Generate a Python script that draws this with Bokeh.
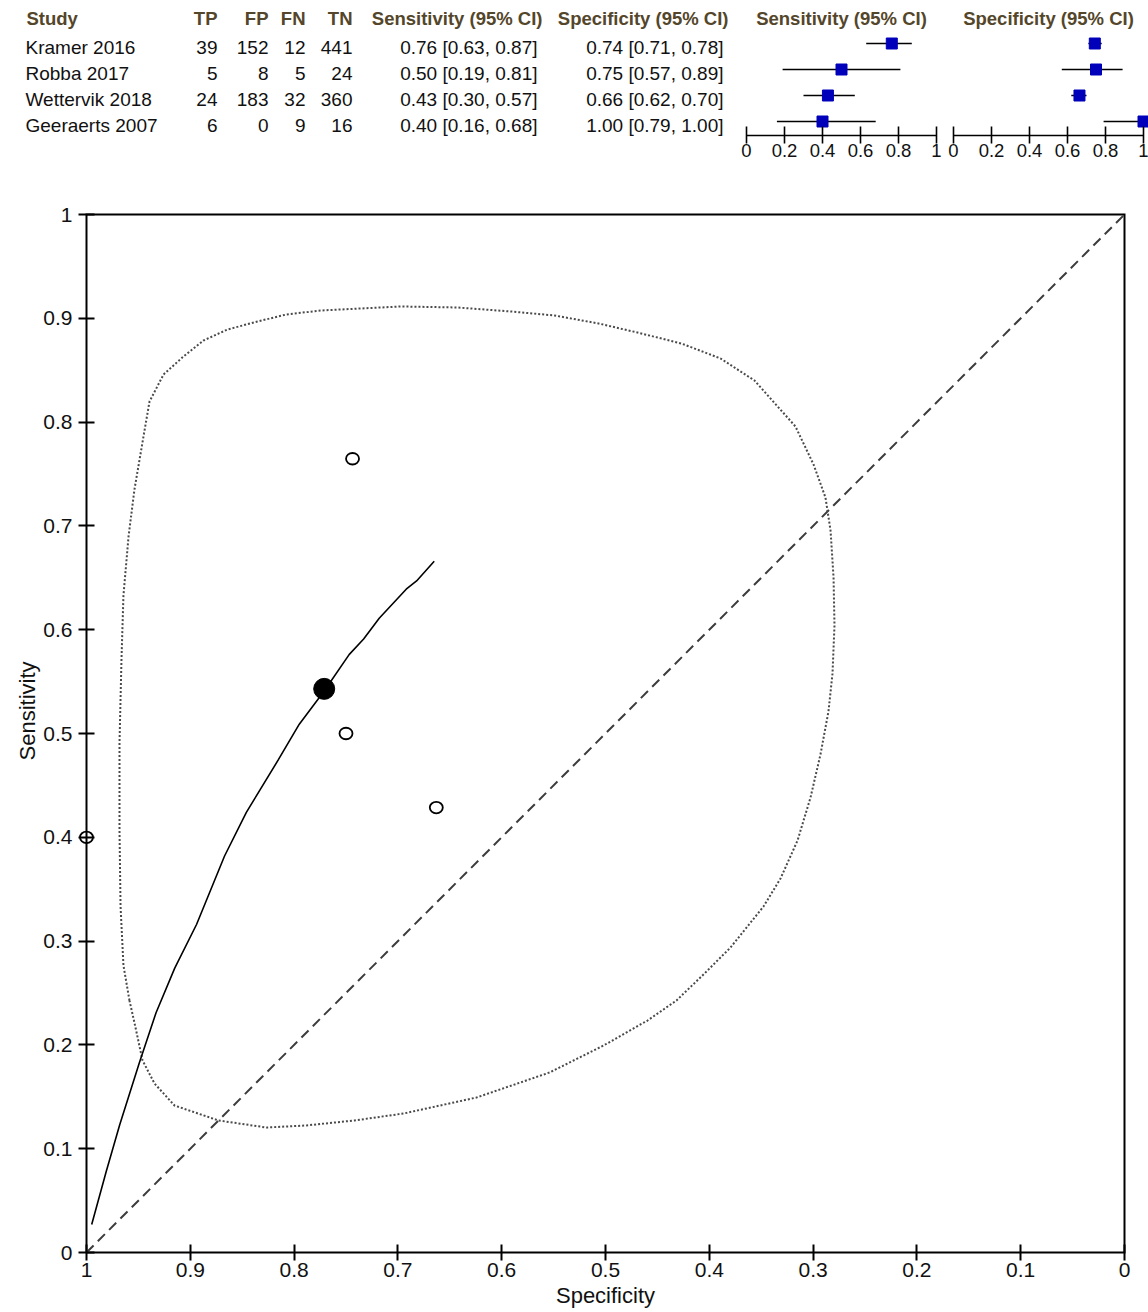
from bokeh.plotting import figure
from bokeh.layouts import column, row
from bokeh.models import Range1d, FixedTicker, Title
from bokeh.embed import file_html
from bokeh.resources import INLINE
from bokeh.core.properties import value

# ---------------- data ----------------
studies = ["Kramer 2016", "Robba 2017", "Wettervik 2018", "Geeraerts 2007"]
tp = [39, 5, 24, 6]
fp = [152, 8, 183, 0]
fn = [12, 5, 32, 9]
tn = [441, 24, 360, 16]

sens = [0.7647, 0.5000, 0.4286, 0.4000]
sens_lo = [0.63, 0.19, 0.30, 0.16]
sens_hi = [0.87, 0.81, 0.57, 0.68]
spec = [0.7437, 0.7500, 0.6630, 1.0000]
spec_lo = [0.71, 0.57, 0.62, 0.79]
spec_hi = [0.78, 0.89, 0.70, 1.00]

summary_spec = [0.771]
summary_sens = [0.543]

sroc_spec = [0.995, 0.981, 0.968, 0.949, 0.933, 0.915, 0.894, 0.867, 0.846,
             0.815, 0.795, 0.771, 0.747, 0.733, 0.718, 0.692, 0.682, 0.665]
sroc_sens = [0.027, 0.078, 0.123, 0.183, 0.231, 0.274, 0.316, 0.382, 0.424,
             0.475, 0.509, 0.541, 0.576, 0.591, 0.611, 0.639, 0.647, 0.666]

region_spec = [0.9586, 0.9644, 0.9672, 0.9682, 0.9682, 0.9663, 0.9644, 0.9595,
               0.9538, 0.9451, 0.9393, 0.9258, 0.9066, 0.8873, 0.8642, 0.8353,
               0.8073, 0.7746, 0.7370, 0.6965, 0.6426, 0.5915, 0.5491, 0.5067,
               0.4692, 0.4268, 0.3892, 0.3565, 0.3170, 0.2996, 0.2881, 0.2832,
               0.2803, 0.2794, 0.2813, 0.2852, 0.2929, 0.3025, 0.3150, 0.3314,
               0.3478, 0.3796, 0.4037, 0.4316, 0.4595, 0.5019, 0.5539, 0.6243,
               0.6946, 0.7418, 0.7881, 0.8266, 0.8728, 0.9152, 0.9345, 0.9460,
               0.9528, 0.9586]
region_sens = [0.2428, 0.2765, 0.3333, 0.4066, 0.4913, 0.5713, 0.6330, 0.6898,
               0.7351, 0.7861, 0.8198, 0.8459, 0.8632, 0.8786, 0.8892, 0.8969,
               0.9037, 0.9075, 0.9094, 0.9114, 0.9104, 0.9066, 0.9027, 0.8950,
               0.8863, 0.8757, 0.8613, 0.8401, 0.7958, 0.7592, 0.7274, 0.6956,
               0.6503, 0.6040, 0.5578, 0.5212, 0.4798, 0.4383, 0.3969, 0.3603,
               0.3333, 0.2938, 0.2697, 0.2428, 0.2235, 0.1994, 0.1734, 0.1493,
               0.1339, 0.1272, 0.1224, 0.1204, 0.1272, 0.1416, 0.1628, 0.1850,
               0.2168, 0.2428]

chance_spec = [1.0, 0.0]
chance_sens = [0.0, 1.0]

roc_ticks = [0, 0.1, 0.2, 0.3, 0.4, 0.5, 0.6, 0.7, 0.8, 0.9, 1]
roc_tick_labels = ["0", "0.1", "0.2", "0.3", "0.4", "0.5", "0.6", "0.7", "0.8", "0.9", "1"]
forest_ticks = [0, 0.2, 0.4, 0.6, 0.8, 1]
forest_tick_labels = ["0", "0.2", "0.4", "0.6", "0.8", "1"]

headers = ["Study", "TP", "FP", "FN", "TN", "Sensitivity (95% CI)", "Specificity (95% CI)"]

sens_txt = ["%.2f [%.2f, %.2f]" % (a, b, c) for a, b, c in zip(sens, sens_lo, sens_hi)]
spec_txt = ["%.2f [%.2f, %.2f]" % (a, b, c) for a, b, c in zip(spec, spec_lo, spec_hi)]

# ---------------- style / layout (page pixels) ----------------
FONT = "Liberation Sans"
HEADER_COLOR = "#54462a"
TEXT_COLOR = "#111111"
TOP_H = 180          # height of the table / forest strip
F_FRAME_BOT = 135    # forest axis line
ROW0 = 43            # first forest row
ROW_PX = 26
HEAD_MID = 17.5      # vertical centre of the header line
TAB_ROW0_MID = 46.5  # vertical centre of the first table row

# ---------- table ----------
TAB_W = 738
tab = figure(width=TAB_W, height=TOP_H, x_range=Range1d(0, TAB_W),
             y_range=Range1d(TOP_H, 0),
             output_backend="svg", toolbar_location=None, title=None,
             x_axis_location=None, y_axis_location=None,
             min_border_left=0, min_border_right=0, min_border_top=0,
             min_border_bottom=0)
tab.frame_align = False
tab.grid.visible = False
tab.outline_line_color = None

row_mid = [TAB_ROW0_MID + ROW_PX * i for i in range(len(studies))]
head_x = [26, 217, 268, 305, 352, 542, 728]
aligns = ["left", "right", "right", "right", "right", "right", "right"]
for h, hx, ha in zip(headers, head_x, aligns):
    tab.text(x=[hx], y=[HEAD_MID], text=[h], text_align=ha, text_baseline="middle",
             text_font=value(FONT), text_font_style="bold", text_font_size="18.5px",
             text_color=HEADER_COLOR)

col_vals = [studies, [str(v) for v in tp], [str(v) for v in fp], [str(v) for v in fn],
            [str(v) for v in tn], sens_txt, spec_txt]
col_x = [25, 217, 268, 305, 352, 537, 723]
for vals, cx, ca in zip(col_vals, col_x, aligns):
    tab.text(x=[cx] * len(vals), y=row_mid, text=vals, text_align=ca,
             text_baseline="middle", text_font=value(FONT), text_font_size="19px",
             text_color=TEXT_COLOR)

# ---------- forest plots ----------
rows_idx = list(range(len(studies)))
y_start = (F_FRAME_BOT - ROW0) / ROW_PX
y_end = (0 - ROW0) / ROW_PX
HEADER_ROW = (HEAD_MID - ROW0) / ROW_PX


def forest(title, est, lo, hi, x_end, bl, br, fw):
    f = figure(width=bl + fw + br, height=TOP_H, x_range=Range1d(0, x_end),
               y_range=Range1d(y_start, y_end), output_backend="svg", toolbar_location=None,
               title=None, y_axis_location=None,
               min_border_left=bl, min_border_right=br, min_border_top=0,
               min_border_bottom=TOP_H - F_FRAME_BOT)
    f.frame_align = False
    f.grid.visible = False
    f.outline_line_color = None
    f.segment(x0=lo, y0=rows_idx, x1=hi, y1=rows_idx, line_width=1.6, line_color="black")
    f.scatter(x=est, y=rows_idx, marker="square", size=11, fill_color="#0000bb",
              line_color="#0000bb")
    f.text(x=[0.5], y=[HEADER_ROW], text=[title], text_align="center",
           text_baseline="middle", text_font=value(FONT), text_font_style="bold",
           text_font_size="18.5px", text_color=HEADER_COLOR)
    ax = f.xaxis[0]
    ax.bounds = (0, 1)
    ax.ticker = FixedTicker(ticks=forest_ticks)
    ax.major_label_overrides = {t: l for t, l in zip(forest_ticks, forest_tick_labels)}
    ax.axis_line_width = 1.6
    ax.axis_line_color = "black"
    ax.major_tick_in = 9
    ax.major_tick_out = 8
    ax.major_tick_line_width = 1.6
    ax.major_tick_line_color = "black"
    ax.minor_tick_line_color = None
    ax.major_label_standoff = 0
    ax.major_label_text_font = FONT
    ax.major_label_text_font_size = "18.5px"
    ax.major_label_text_color = TEXT_COLOR
    return f


sens_fig = forest("Sensitivity (95% CI)", sens, sens_lo, sens_hi, 1.0, 8, 8, 190)
spec_fig = forest("Specificity (95% CI)", spec, spec_lo, spec_hi, 1.0 + 5 / 190, 9, 0, 195)

# ---------- main SROC plot ----------
PAD = 8 / 1038
MAIN_H = 1312 - TOP_H
main = figure(width=1148, height=MAIN_H, x_range=Range1d(1 + PAD, -PAD),
              y_range=Range1d(-PAD, 1 + PAD), output_backend="svg", toolbar_location=None,
              title=None, min_border_left=78, min_border_right=16,
              min_border_top=206 - TOP_H, min_border_bottom=52)
main.frame_align = False
main.grid.visible = False
main.outline_line_color = None

for ax in (main.xaxis[0], main.yaxis[0]):
    ax.ticker = FixedTicker(ticks=roc_ticks)
    ax.major_label_overrides = {t: l for t, l in zip(roc_ticks, roc_tick_labels)}
    ax.axis_line_color = None
    ax.major_tick_in = 16
    ax.major_tick_out = 0
    ax.major_tick_line_width = 2
    ax.major_tick_line_color = "black"
    ax.minor_tick_line_color = None
    ax.major_label_text_font = FONT
    ax.major_label_text_font_size = "21px"
    ax.major_label_text_color = TEXT_COLOR
main.xaxis.major_label_standoff = 2
main.yaxis.major_label_standoff = 6
main.xaxis.axis_label = "Specificity"
main.xaxis.axis_label_standoff = 3
main.xaxis.axis_label_text_font = FONT
main.xaxis.axis_label_text_font_size = "22px"
main.xaxis.axis_label_text_font_style = "normal"
main.xaxis.axis_label_text_color = TEXT_COLOR
main.add_layout(Title(text="Sensitivity", align="left", offset=500, text_font=FONT,
                      text_font_size="22px", text_font_style="normal",
                      text_color=TEXT_COLOR, standoff=2), "left")

lo_v, hi_v = roc_ticks[0], roc_ticks[-1]
box_x = [hi_v, lo_v, lo_v, hi_v, hi_v]
box_y = [lo_v, lo_v, hi_v, hi_v, lo_v]
main.line(box_x, box_y, line_width=2, line_color="black", line_join="miter")

main.line(chance_spec, chance_sens, line_width=2, line_color="#3c3c3c", line_dash="10 6")
main.line(region_spec, region_sens, line_width=2, line_color="#4a4a4a", line_dash="2 2")
main.line(sroc_spec, sroc_sens, line_width=1.6, line_color="black")
main.ellipse(x=spec, y=sens, width=13, height=11.5, width_units="screen",
             height_units="screen", fill_color=None, line_color="black", line_width=1.8)
main.scatter(summary_spec, summary_sens, marker="circle", size=21, fill_color="black",
             line_color="black")

layout = column(row(tab, sens_fig, spec_fig, spacing=0), main, spacing=0)
open("out.html", "w").write(file_html(layout, INLINE))
